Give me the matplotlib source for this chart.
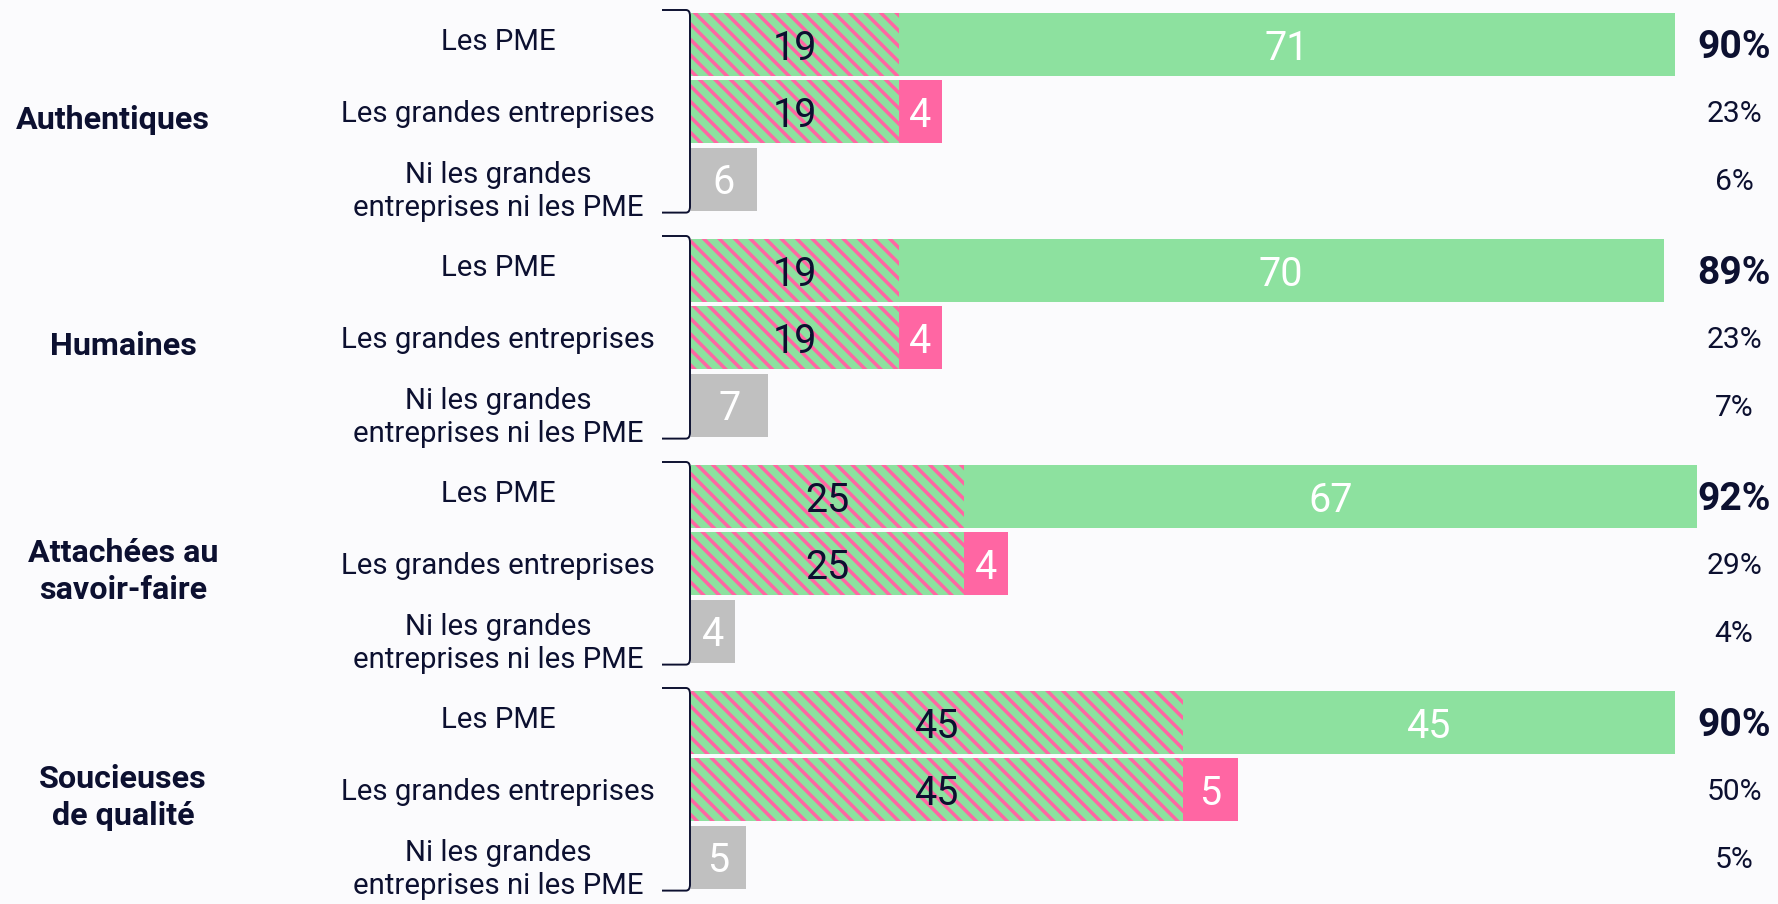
import matplotlib
matplotlib.use("Agg")
import matplotlib.pyplot as plt
from matplotlib.path import Path
from matplotlib.patches import PathPatch

# ---------------- data ----------------
categories = ["Authentiques", "Humaines", "Attachées au\nsavoir-faire", "Soucieuses\nde qualité"]
row_labels = ["Les PME", "Les grandes entreprises", "Ni les grandes\nentreprises ni les PME"]
both_values = [19, 19, 25, 45]        # hatched share (both)
pme_only = [71, 70, 67, 45]           # green
ge_only = [4, 4, 4, 5]                # pink
neither = [6, 7, 4, 5]                # grey
total_pme = ["90%", "89%", "92%", "90%"]
total_ge = ["23%", "23%", "29%", "50%"]
total_neither = ["6%", "7%", "4%", "5%"]

# ---------------- style ----------------
W, H = 1778, 904
DPI = 93
GREEN = "#8de19f"
PINK = "#ff66a3"
GREY = "#c0c0c0"
TEXT = "#0c1030"
BG = "#fbfbfd"
FONT = ["Roboto", "DejaVu Sans"]

def fs(px):
    return px * 72.0 / DPI

plt.rcParams["font.family"] = FONT
plt.rcParams["hatch.linewidth"] = 2.7

fig = plt.figure(figsize=(W / DPI, H / DPI), dpi=DPI, facecolor=BG)
ax = fig.add_axes([0, 0, 1, 1])
ax.set_facecolor(BG)
X0_PX = 691.0
PX_PER_UNIT = 10.93
ax.set_xlim(-X0_PX / PX_PER_UNIT, (W - X0_PX) / PX_PER_UNIT)
ax.set_ylim(H, 0)
ax.axis("off")

ROW_STEP = 67.3
GROUP_STEP = 226.0
FIRST = 44.5
BAR_H = 63.0
NUM_DY = 3.5

trans = ax.get_yaxis_transform()  # x in axes fraction, y in data (px)
cat_dx = [-10, 0, 0, 0]

for g in range(len(categories)):
    ys = [FIRST + g * GROUP_STEP + r * ROW_STEP for r in range(3)]
    # Row 0: PME (both hatched + pme only)
    ax.barh(ys[0], both_values[g], height=BAR_H, color=GREEN, edgecolor=PINK,
            hatch="\\\\", linewidth=0)
    ax.barh(ys[0], pme_only[g], left=both_values[g], height=BAR_H, color=GREEN, linewidth=0)
    # Row 1: grandes entreprises (both hatched + GE only)
    ax.barh(ys[1], both_values[g], height=BAR_H, color=GREEN, edgecolor=PINK,
            hatch="\\\\", linewidth=0)
    ax.barh(ys[1], ge_only[g], left=both_values[g], height=BAR_H, color=PINK, linewidth=0)
    # Row 2: neither
    ax.barh(ys[2], neither[g], height=BAR_H, color=GREY, linewidth=0)

    # value labels
    vfs = fs(39.5)
    for r in (0, 1):
        ax.text(both_values[g] / 2, ys[r] + NUM_DY, str(both_values[g]), ha="center",
                va="center", color=TEXT, fontsize=vfs)
    ax.text(both_values[g] + pme_only[g] / 2, ys[0] + NUM_DY, str(pme_only[g]), ha="center",
            va="center", color="white", fontsize=vfs)
    ax.text(both_values[g] + ge_only[g] / 2, ys[1] + NUM_DY, str(ge_only[g]), ha="center",
            va="center", color="white", fontsize=vfs)
    ax.text(neither[g] / 2, ys[2] + NUM_DY, str(neither[g]), ha="center", va="center",
            color="white", fontsize=vfs)

    # totals on the right
    xr = 1734 / W
    ax.text(xr, ys[0] + NUM_DY, total_pme[g], transform=trans, ha="center", va="center",
            color=TEXT, fontsize=fs(39), fontweight="bold")
    ax.text(xr, ys[1] + NUM_DY - 1, total_ge[g], transform=trans, ha="center", va="center",
            color=TEXT, fontsize=fs(30))
    ax.text(xr, ys[2] + NUM_DY - 1, total_neither[g], transform=trans, ha="center",
            va="center", color=TEXT, fontsize=fs(30))

    # row labels
    offs = [-2.5, 2, 12.5]
    for r in range(3):
        ax.text(498 / W, ys[r] + offs[r], row_labels[r], transform=trans, ha="center",
                va="center", color=TEXT, fontsize=fs(29.4), linespacing=1.23)

    # category label
    ax.text((123 + cat_dx[g]) / W, ys[1] + 8, categories[g], transform=trans, ha="center",
            va="center", color=TEXT, fontsize=fs(32.3), fontweight="bold", linespacing=1.28)

    # bracket
    top = ys[0] - BAR_H / 2 - 3
    bot = ys[2] + BAR_H / 2 + 2
    xl, xv = 662 / W, 690 / W
    xc = 686 / W
    verts = [(xl, top), (xc, top), (xv, top), (xv, top + 6),
             (xv, bot - 6), (xv, bot), (xc, bot), (xl, bot)]
    codes = [Path.MOVETO, Path.LINETO, Path.CURVE3, Path.CURVE3,
             Path.LINETO, Path.CURVE3, Path.CURVE3, Path.LINETO]
    ax.add_patch(PathPatch(Path(verts, codes), transform=trans, fill=False,
                           edgecolor=TEXT, linewidth=1.5, clip_on=False))

fig.savefig("out.png", dpi=DPI, facecolor=BG)
